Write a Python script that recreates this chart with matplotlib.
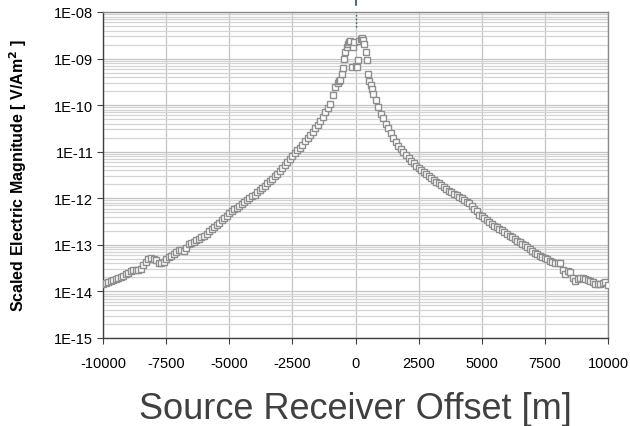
import numpy as np
import matplotlib
matplotlib.use('Agg')
import matplotlib.pyplot as plt
from matplotlib.ticker import LogLocator, FuncFormatter, NullFormatter

plt.rcParams['font.family'] = ['Liberation Sans', 'DejaVu Sans']

# offsets (m) and log10 of the scaled electric magnitude
left_offsets = list(range(-10000, -1000, 100))
left_log = [-13.84, -13.82, -13.79, -13.77, -13.75, -13.73, -13.71, -13.69, -13.66, -13.63,
            -13.60, -13.57, -13.55, -13.55, -13.55, -13.52, -13.44, -13.36, -13.31, -13.29,
            -13.30, -13.33, -13.38, -13.40, -13.36, -13.31, -13.27, -13.23, -13.19, -13.15,
            -13.11, -13.10, -13.13, -13.07, -12.99, -12.95, -12.93, -12.90, -12.87, -12.84,
            -12.80, -12.76, -12.71, -12.66, -12.62, -12.57, -12.52, -12.47, -12.42, -12.37,
            -12.32, -12.28, -12.24, -12.20, -12.16, -12.12, -12.08, -12.04, -12.00, -11.96,
            -11.92, -11.87, -11.83, -11.78, -11.73, -11.68, -11.63, -11.58, -11.52, -11.47,
            -11.41, -11.35, -11.29, -11.23, -11.16, -11.10, -11.03, -10.97, -10.91, -10.85,
            -10.78, -10.71, -10.64, -10.57, -10.50, -10.42, -10.33, -10.25, -10.15, -10.06]

peak_offsets = [-1000, -900, -800, -700, -650, -600, -550, -500, -450, -400, -350, -300,
                -250, -200, -150, -100, -50, 0, 50, 100, 150, 200, 250, 300, 350, 400,
                450, 500, 550, 600, 650, 700, 800, 900]
peak_log = [-9.97, -9.78, -9.62, -9.53, -9.49, -9.45, -9.33, -9.20, -9.00, -8.86, -8.76, -8.69,
            -8.64, -8.62, -9.19, -8.75, -8.64, -9.17, -9.19, -9.02, -8.62, -8.57, -8.56, -8.60,
            -8.68, -8.86, -9.03, -9.33, -9.48, -9.57, -9.65, -9.75, -9.90, -10.05]

right_offsets = list(range(1000, 10100, 100))
right_log = [-10.18, -10.28, -10.40, -10.50, -10.60, -10.70, -10.79, -10.87, -10.95, -11.01,
             -11.08, -11.14, -11.19, -11.24, -11.30, -11.35, -11.39, -11.43, -11.48, -11.52,
             -11.56, -11.60, -11.64, -11.68, -11.72, -11.76, -11.80, -11.84, -11.87, -11.91,
             -11.94, -11.97, -12.00, -12.04, -12.08, -12.11, -12.16, -12.22, -12.28, -12.35,
             -12.39, -12.43, -12.47, -12.51, -12.55, -12.59, -12.62, -12.66, -12.69, -12.73,
             -12.76, -12.80, -12.83, -12.87, -12.91, -12.94, -12.98, -13.01, -13.05, -13.08,
             -13.14, -13.17, -13.20, -13.23, -13.25, -13.28, -13.31, -13.34, -13.37, -13.39,
             -13.40, -13.38, -13.53, -13.62, -13.57, -13.59, -13.72, -13.77, -13.74, -13.71,
             -13.72, -13.73, -13.75, -13.78, -13.80, -13.83, -13.85, -13.84, -13.81, -13.80,
             -13.87]

x_ticks = [-10000, -7500, -5000, -2500, 0, 2500, 5000, 7500, 10000]

offset = np.array(left_offsets + peak_offsets + right_offsets)
mag = 10.0 ** np.array(left_log + peak_log + right_log)

fig = plt.figure(figsize=(6.3, 4.27), dpi=100)
ax = fig.add_axes([103 / 630, 1 - 339 / 427, 505 / 630, 326 / 427])

ax.set_yscale('log')
ax.set_xlim(-10000, 10000)
ax.set_ylim(1e-15, 1e-8)

ax.yaxis.set_major_locator(LogLocator(base=10, numticks=20))
ax.yaxis.set_minor_locator(LogLocator(base=10, subs=np.arange(2, 10), numticks=20))
ax.yaxis.set_minor_formatter(NullFormatter())
ax.yaxis.set_major_formatter(FuncFormatter(lambda v, p: '1E-%02d' % round(-np.log10(v))))
ax.set_xticks(x_ticks)
ax.set_xticklabels([str(t) for t in x_ticks])

ax.grid(True, which='major', axis='both', color='#c4c4c4', lw=0.9)
ax.grid(True, which='minor', axis='y', color='#d4d4d4', lw=0.9)
ax.set_axisbelow(True)

ax.plot(offset, mag, ls='none', marker='s', ms=5, mfc='white', mec='#8e8e8e', mew=1.0, zorder=3)

# source position marker above the plot
ax.axvline(0, ymin=0.954, ymax=1.0, color='#2f4f5f', lw=1, ls=':', zorder=4)
ax.axvline(0, ymin=1.021, ymax=1.04, color='#2f4f5f', lw=1.2, clip_on=False, zorder=4)

for s in ['left', 'bottom']:
    ax.spines[s].set_color('#404040')
    ax.spines[s].set_linewidth(1.0)
for s in ['top', 'right']:
    ax.spines[s].set_color('#8a8a8a')
    ax.spines[s].set_linewidth(1.0)

ax.tick_params(axis='both', which='major', direction='out', length=4, width=0.8,
               color='#404040', labelsize=10.5, labelcolor='black')
ax.tick_params(axis='x', pad=9)
ax.tick_params(axis='y', pad=3)
ax.tick_params(axis='y', which='minor', length=0)

ax.set_ylabel('Scaled Electric Magnitude [ V/Am$^{\\mathbf{2}}$ ]', fontsize=11.5, fontweight='bold')
ax.yaxis.set_label_coords(-0.147, 0.5)
ax.set_xlabel('Source Receiver Offset [m]', fontsize=26, color='#404040', labelpad=15)

fig.savefig('out.png', dpi=100)
